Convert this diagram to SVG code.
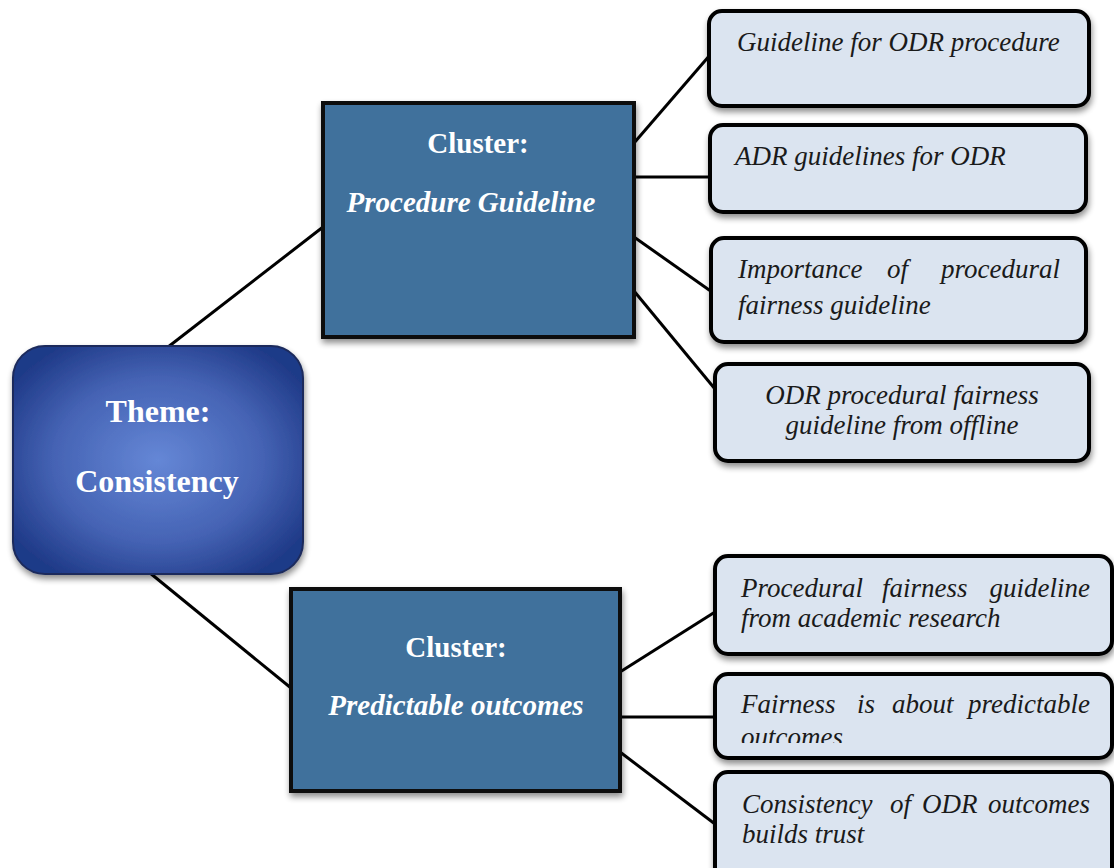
<svg xmlns="http://www.w3.org/2000/svg" width="1114" height="868" viewBox="0 0 1114 868">
<style>
.leaf{fill:#dbe4f0;stroke:#000;stroke-width:4}
.clu{fill:#41719c;stroke:#0d0d0d;stroke-width:4}
.lt{font-family:"Liberation Serif",serif;font-style:italic;font-size:27px;fill:#1a1a1a}
.ct{font-family:"Liberation Serif",serif;font-weight:bold;font-size:29px;fill:#fff;text-anchor:middle}
.tt{font-family:"Liberation Serif",serif;font-weight:bold;font-size:32px;fill:#fff;text-anchor:middle}
.con{stroke:#000;stroke-width:3;fill:none}
</style>
<defs>
<radialGradient id="tg" cx="50%" cy="50%" r="60%">
<stop offset="0" stop-color="#6587d6"/>
<stop offset="0.6" stop-color="#4563b4"/>
<stop offset="1" stop-color="#1f3a88"/>
</radialGradient>
<filter id="sh" x="-10%" y="-10%" width="125%" height="130%">
<feGaussianBlur in="SourceAlpha" stdDeviation="3"/>
<feOffset dx="1" dy="4" result="b"/>
<feComponentTransfer><feFuncA type="linear" slope="0.45"/></feComponentTransfer>
<feMerge><feMergeNode/><feMergeNode in="SourceGraphic"/></feMerge>
</filter>
<clipPath id="c6"><rect x="714" y="673" width="400" height="70"/></clipPath>
</defs>
<g id="connectors">
<line class="con" x1="168" y1="347" x2="323" y2="227"/>
<line class="con" x1="150" y1="573" x2="291" y2="688"/>
<line class="con" x1="634" y1="143" x2="710" y2="55"/>
<line class="con" x1="634" y1="177" x2="710" y2="177"/>
<line class="con" x1="634" y1="237" x2="712" y2="292"/>
<line class="con" x1="634" y1="291" x2="715" y2="389"/>
<line class="con" x1="620" y1="672" x2="715" y2="612"/>
<line class="con" x1="620" y1="717" x2="715" y2="717"/>
<line class="con" x1="620" y1="752" x2="715" y2="824"/>
</g>
<g id="theme">
<rect x="13" y="346" width="290" height="228" rx="32" fill="url(#tg)" stroke="#1b2b5c" stroke-width="2" filter="url(#sh)"/>
<text class="tt" x="158" y="422">Theme:</text>
<text class="tt" x="157" y="492">Consistency</text>
</g>
<g id="cluster1">
<rect class="clu" x="323" y="103" width="311" height="234" filter="url(#sh)"/>
<text class="ct" x="478" y="153">Cluster:</text>
<text class="ct" x="471" y="212" font-style="italic">Procedure Guideline</text>
</g>
<g id="cluster2">
<rect class="clu" x="291" y="589" width="329" height="202" filter="url(#sh)"/>
<text class="ct" x="456" y="657">Cluster:</text>
<text class="ct" x="456" y="715" font-style="italic">Predictable outcomes</text>
</g>
<g id="leaf1">
<rect class="leaf" x="709" y="11" width="380" height="95" rx="13" filter="url(#sh)"/>
<text class="lt" x="737" y="51">Guideline for ODR procedure</text>
</g>
<g id="leaf2">
<rect class="leaf" x="710" y="125" width="376" height="87" rx="13" filter="url(#sh)"/>
<text class="lt" x="735" y="165">ADR guidelines for ODR</text>
</g>
<g id="leaf3">
<rect class="leaf" x="711" y="238" width="375" height="104" rx="13" filter="url(#sh)"/>
<text class="lt" x="738" y="278">Importance</text>
<text class="lt" x="887" y="278">of</text>
<text class="lt" x="1060" y="278" text-anchor="end">procedural</text>
<text class="lt" x="738" y="314">fairness guideline</text>
</g>
<g id="leaf4">
<rect class="leaf" x="715" y="364" width="374" height="97" rx="13" filter="url(#sh)"/>
<text class="lt" x="902" y="404" text-anchor="middle">ODR procedural fairness</text>
<text class="lt" x="902" y="434" text-anchor="middle">guideline from offline</text>
</g>
<g id="leaf5">
<rect class="leaf" x="715" y="556" width="397" height="98" rx="13" filter="url(#sh)"/>
<text class="lt" x="741" y="597">Procedural</text>
<text class="lt" x="882" y="597">fairness</text>
<text class="lt" x="1090" y="597" text-anchor="end">guideline</text>
<text class="lt" x="741" y="627">from academic research</text>
</g>
<g id="leaf6">
<rect class="leaf" x="715" y="674" width="397" height="84" rx="13" filter="url(#sh)"/>
<text class="lt" x="741" y="713">Fairness</text>
<text class="lt" x="857" y="713">is</text>
<text class="lt" x="892" y="713">about</text>
<text class="lt" x="1090" y="713" text-anchor="end">predictable</text>
<text class="lt" x="741" y="746" clip-path="url(#c6)">outcomes</text>
</g>
<g id="leaf7">
<rect class="leaf" x="715" y="772" width="397" height="110" rx="13" filter="url(#sh)"/>
<text class="lt" x="742" y="813">Consistency</text>
<text class="lt" x="890" y="813">of</text>
<text class="lt" x="922" y="813">ODR</text>
<text class="lt" x="1090" y="813" text-anchor="end">outcomes</text>
<text class="lt" x="742" y="843">builds trust</text>
</g>
</svg>
